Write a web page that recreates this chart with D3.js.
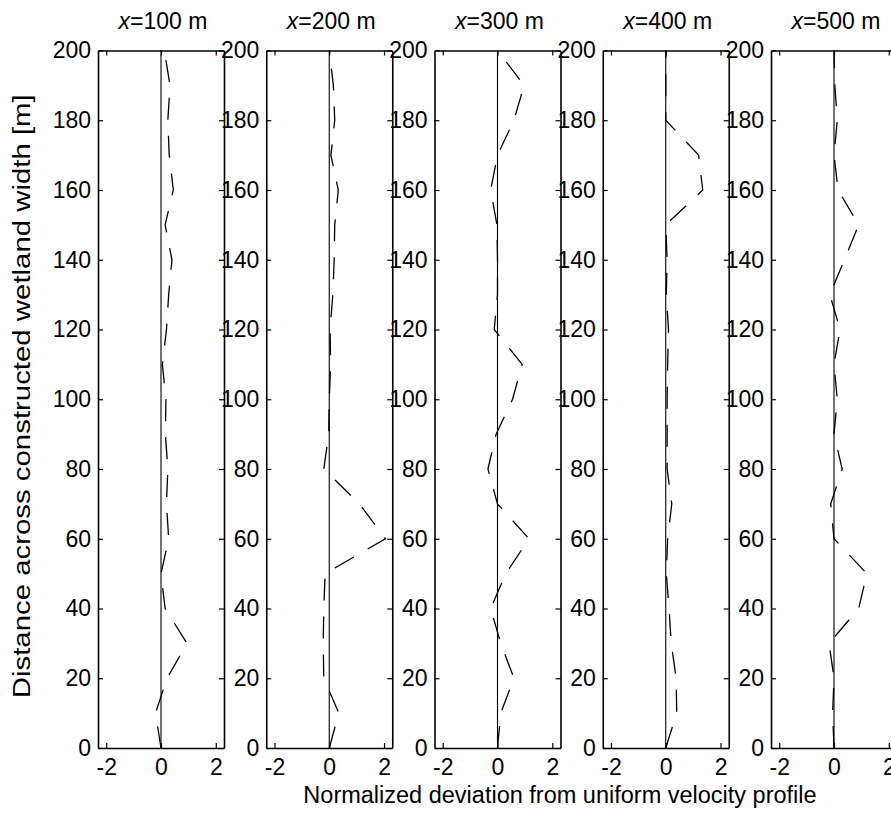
<!DOCTYPE html>
<html>
<head>
<meta charset="utf-8">
<script src="https://cdn.jsdelivr.net/npm/d3@7"></script>
<style>
  body { margin: 0; background: #fff; }
  svg { display: block; }
  text { font-family: "Liberation Sans", Arial, Helvetica, sans-serif; fill: #000; }
</style>
</head>
<body>
<svg id="chart" width="891" height="817"></svg>
<script>
// Distance across the wetland (m) at which the profile is sampled
const distance = [0, 10, 20, 30, 40, 50, 60, 70, 80, 90, 100, 110, 120, 130, 140, 150, 160, 170, 180, 190, 200];

// Downstream stations (m)
const stations = ["100", "200", "300", "400", "500"];

// Normalized deviation from a uniform velocity profile, one array per station
const dev100 = [0, -0.2, 0.22, 0.95, 0.15, 0.0, 0.28, 0.2, 0.25, 0.16, 0.18, 0.05, 0.2, 0.28, 0.4, 0.15, 0.45, 0.3, 0.25, 0.33, 0.12];
const dev200 = [0, 0.35, -0.2, -0.22, -0.2, -0.15, 2.05, 1.1, -0.2, -0.02, 0.0, 0.05, 0.03, 0.13, 0.18, 0.2, 0.33, 0.06, 0.2, 0.15, 0.0];
const dev300 = [0, 0.12, 0.6, 0.12, -0.25, 0.3, 1.15, 0.0, -0.35, -0.05, 0.55, 0.9, -0.12, 0.0, 0.0, -0.02, -0.25, 0.0, 0.6, 0.97, 0.0];
const dev400 = [0, 0.4, 0.38, 0.2, 0.12, 0.02, 0.07, 0.22, 0.05, 0.05, 0.05, 0.07, 0.1, 0.02, 0.05, 0.0, 1.35, 1.2, 0.0, 0.0, 0.0];
const dev500 = [0, -0.05, 0.0, -0.18, 0.9, 1.2, 0.0, -0.12, 0.3, 0.0, 0.12, 0.0, 0.22, -0.15, 0.38, 0.9, 0.15, 0.0, 0.12, 0.03, 0.0];

const series = [dev100, dev200, dev300, dev400, dev500];

// Tick values
const xTicks = [-2, 0, 2];
const yTicks = [0, 20, 40, 60, 80, 100, 120, 140, 160, 180, 200];

const svg = d3.select("#chart");

const panelLeft = d3.scaleLinear().domain([0, 4]).range([98, 771]);
const panelW = 126;
const y = d3.scaleLinear().domain([0, 200]).range([748, 50.5]);

const plain = d => String(d);

series.forEach((vals, i) => {
  const left = panelLeft(i);
  const right = left + panelW;
  const x = d3.scaleLinear().domain([-2.3, 2.3]).range([left, right]);
  const g = svg.append("g");

  // zero reference
  g.append("line")
    .attr("x1", x(0)).attr("x2", x(0))
    .attr("y1", y(0)).attr("y2", y(200))
    .attr("stroke", "#000").attr("stroke-width", 1.1);

  // deviation profile (dashed)
  const line = d3.line().x(d => x(d[1])).y(d => y(d[0]));
  g.append("path")
    .datum(distance.map((d, k) => [d, vals[k]]))
    .attr("d", line)
    .attr("fill", "none")
    .attr("stroke", "#000")
    .attr("stroke-width", 1.3)
    .attr("stroke-dasharray", "22,16");

  // frame with inward ticks
  const styleAxis = sel => {
    sel.selectAll("path.domain").attr("stroke", "#000").attr("stroke-width", 1.6);
    sel.selectAll(".tick line").attr("stroke", "#000").attr("stroke-width", 1.2);
    sel.selectAll(".tick text").style("font-size", "23px").attr("fill", "#000");
  };

  g.append("g").attr("transform", `translate(${left},0)`)
    .call(d3.axisLeft(y).tickValues(yTicks).tickFormat(plain).tickSize(-5).tickSizeOuter(0).tickPadding(7))
    .call(styleAxis);
  g.append("g").attr("transform", `translate(${right},0)`)
    .call(d3.axisRight(y).tickValues(yTicks).tickFormat("").tickSize(-5).tickSizeOuter(0))
    .call(styleAxis);
  g.append("g").attr("transform", `translate(0,${y(0)})`)
    .call(d3.axisBottom(x).tickValues(xTicks).tickFormat(plain).tickSize(-5).tickSizeOuter(0).tickPadding(11))
    .call(styleAxis);
  g.append("g").attr("transform", `translate(0,${y(200)})`)
    .call(d3.axisTop(x).tickValues(xTicks).tickFormat("").tickSize(-5).tickSizeOuter(0))
    .call(styleAxis);

  // station title
  const t = svg.append("text")
    .attr("x", x(0) + 2).attr("y", 29)
    .attr("text-anchor", "middle")
    .style("font-size", "23px");
  t.append("tspan").style("font-style", "italic").text("x");
  t.append("tspan").text(`=${stations[i]} m`);
});

// axis titles
svg.append("text")
  .attr("x", 560).attr("y", 803)
  .attr("text-anchor", "middle")
  .style("font-size", "23.5px")
  .text("Normalized deviation from uniform velocity profile");

svg.append("text")
  .attr("transform", `translate(30,${(y(0) + y(200)) / 2 - 3}) rotate(-90)`)
  .attr("text-anchor", "middle")
  .attr("textLength", 604)
  .attr("lengthAdjust", "spacingAndGlyphs")
  .style("font-size", "23px")
  .text("Distance across constructed wetland width [m]");
</script>
</body>
</html>
